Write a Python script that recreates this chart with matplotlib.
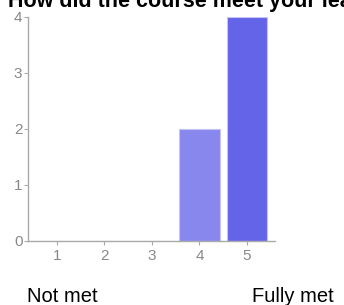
import matplotlib
matplotlib.use("Agg")
import matplotlib.pyplot as plt

ratings = [1, 2, 3, 4, 5]
counts = [0, 0, 0, 2, 4]
bar_colors = ["#8787ee", "#8787ee", "#8787ee", "#8787ee", "#6464e8"]
y_ticks = [0, 1, 2, 3, 4]
title = "How did the course meet your learning goals?"
low_label = "Not met"
high_label = "Fully met"

plt.rcParams["font.family"] = ["Liberation Sans", "DejaVu Sans"]

W, H = 344, 305
fig = plt.figure(figsize=(W / 100, H / 100), dpi=100)
ax = fig.add_axes([28 / W, 1 - 241 / H, (275 - 28) / W, (241 - 17) / H])

ax.bar(ratings, counts, width=0.85, color=bar_colors, edgecolor="#c4c4f6", linewidth=0.8)

ax.set_xlim(0.39, 5.59)
ax.set_ylim(0, 4)
ax.set_xticks(ratings)
ax.set_yticks(y_ticks)
for side in ["top", "right"]:
    ax.spines[side].set_visible(False)
for side in ["left", "bottom"]:
    ax.spines[side].set_color("#aaaaaa")
    ax.spines[side].set_linewidth(1)
ax.tick_params(colors="#aaaaaa", labelcolor="#888888", labelsize=11, length=3, width=0.8)
ax.tick_params(axis="x", pad=3)
ax.tick_params(axis="y", pad=1)

# the title runs off the top and right edges in the original, too
fig.text(8 / W, 1 - 7 / H, title, fontsize=15.5, fontweight="bold", va="baseline", ha="left")
fig.text(27 / W, 1 - 302 / H, low_label, fontsize=14.5, va="baseline", ha="left")
fig.text(252 / W, 1 - 302 / H, high_label, fontsize=14.5, va="baseline", ha="left")

fig.savefig("out.png", dpi=100)
